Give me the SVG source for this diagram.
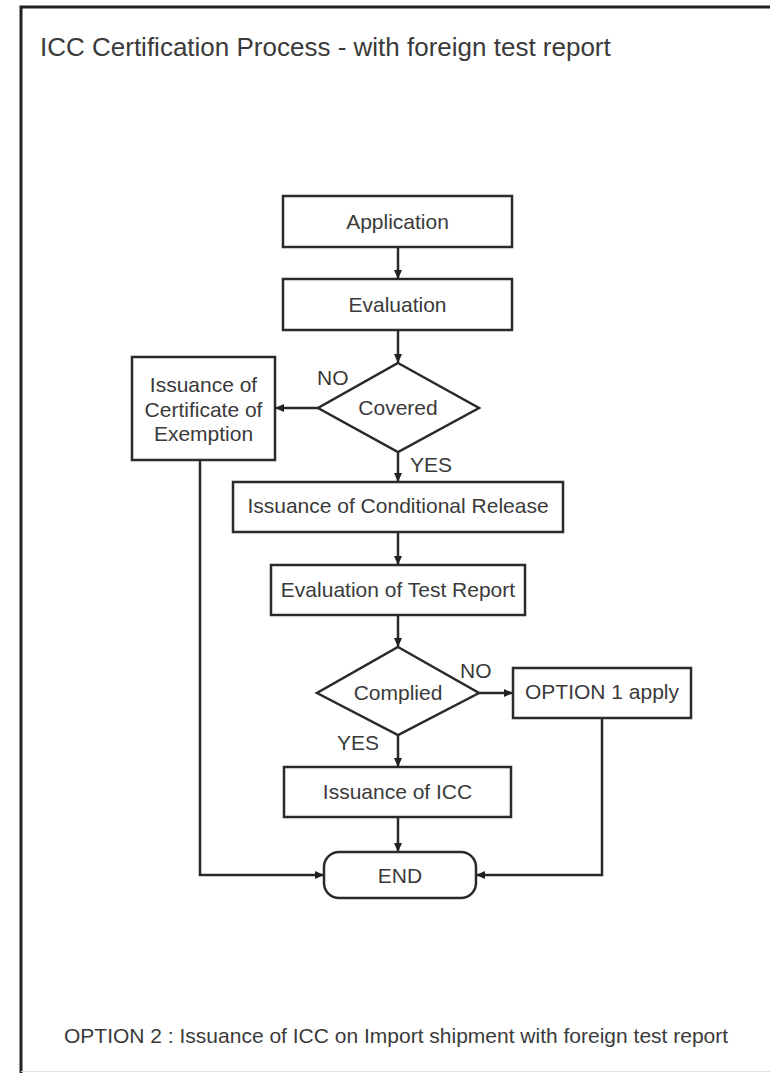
<svg xmlns="http://www.w3.org/2000/svg" width="770" height="1073" viewBox="0 0 770 1073">
  <defs>
    <marker id="arr" markerUnits="userSpaceOnUse" markerWidth="10" markerHeight="8" refX="9" refY="4" orient="auto">
      <path d="M0,0 L9,4 L0,8 z" fill="#222"/>
    </marker>
    <style>
      .box { fill: #fff; stroke: #2a2a2a; stroke-width: 2.5; }
      .lbl { font-family: "Liberation Sans", Arial, sans-serif; font-size: 21px; fill: #3a3a3a; text-anchor: middle; }
      .note { font-family: "Liberation Sans", Arial, sans-serif; font-size: 21px; fill: #3a3a3a; }
      .conn { fill: none; stroke: #2a2a2a; stroke-width: 2.5; }
    </style>
  </defs>
  <rect x="0" y="0" width="770" height="1073" fill="#fff"/>
  <!-- frame -->
  <path d="M21,1073 L21,7 L770,7" fill="none" stroke="#222" stroke-width="3"/>
  <line x1="21" y1="1071.5" x2="770" y2="1071.5" stroke="#e0e0e0" stroke-width="1"/>

  <text id="title" class="note" x="40" y="56" style="font-size:26px">ICC Certification Process - with foreign test report</text>

  <g id="connectors">
    <line class="conn" x1="398" y1="247" x2="398" y2="279" marker-end="url(#arr)"/>
    <line class="conn" x1="398" y1="330" x2="398" y2="363" marker-end="url(#arr)"/>
    <line class="conn" x1="318" y1="408" x2="275" y2="408" marker-end="url(#arr)"/>
    <line class="conn" x1="398" y1="452" x2="398" y2="482" marker-end="url(#arr)"/>
    <line class="conn" x1="398" y1="532" x2="398" y2="565" marker-end="url(#arr)"/>
    <line class="conn" x1="398" y1="615" x2="398" y2="647" marker-end="url(#arr)"/>
    <line class="conn" x1="479" y1="693" x2="513" y2="693" marker-end="url(#arr)"/>
    <line class="conn" x1="398" y1="735" x2="398" y2="767" marker-end="url(#arr)"/>
    <line class="conn" x1="398" y1="817" x2="398" y2="852" marker-end="url(#arr)"/>
    <polyline class="conn" points="200,460 200,875 324,875" marker-end="url(#arr)"/>
    <polyline class="conn" points="602,718 602,875 476,875" marker-end="url(#arr)"/>
    <text class="note" x="317" y="385">NO</text>
    <text class="note" x="410" y="472">YES</text>
    <text class="note" x="460" y="678">NO</text>
    <text class="note" x="337" y="750">YES</text>
  </g>

  <g id="application">
    <rect class="box" x="283" y="196" width="229" height="51"/>
    <text class="lbl" x="397.5" y="229">Application</text>
  </g>
  <g id="evaluation">
    <rect class="box" x="283" y="279" width="229" height="51"/>
    <text class="lbl" x="397.5" y="312">Evaluation</text>
  </g>
  <g id="covered">
    <polygon class="box" points="398,363 479,408 398,452 318,408"/>
    <text class="lbl" x="398" y="415">Covered</text>
  </g>
  <g id="exemption">
    <rect class="box" x="132" y="357" width="143" height="103"/>
    <text class="lbl" x="203.5" y="392">Issuance of</text>
    <text class="lbl" x="203.5" y="417">Certificate of</text>
    <text class="lbl" x="203.5" y="441">Exemption</text>
  </g>
  <g id="conditional-release">
    <rect class="box" x="233" y="482" width="330" height="50"/>
    <text class="lbl" x="398" y="513">Issuance of Conditional Release</text>
  </g>
  <g id="test-report">
    <rect class="box" x="271" y="565" width="254" height="50"/>
    <text class="lbl" x="398" y="597">Evaluation of Test Report</text>
  </g>
  <g id="complied">
    <polygon class="box" points="398,647 479,693 398,735 317,693"/>
    <text class="lbl" x="398" y="700">Complied</text>
  </g>
  <g id="option1">
    <rect class="box" x="513" y="668" width="178" height="50"/>
    <text class="lbl" x="602" y="699">OPTION 1 apply</text>
  </g>
  <g id="issuance-icc">
    <rect class="box" x="284" y="767" width="227" height="50"/>
    <text class="lbl" x="397.5" y="799">Issuance of ICC</text>
  </g>
  <g id="end">
    <rect class="box" x="324" y="852" width="152" height="46" rx="15" ry="15"/>
    <text class="lbl" x="400" y="883">END</text>
  </g>

  <text id="footnote" class="note" x="64" y="1043">OPTION 2 : Issuance of ICC on Import shipment with foreign test report</text>
</svg>
